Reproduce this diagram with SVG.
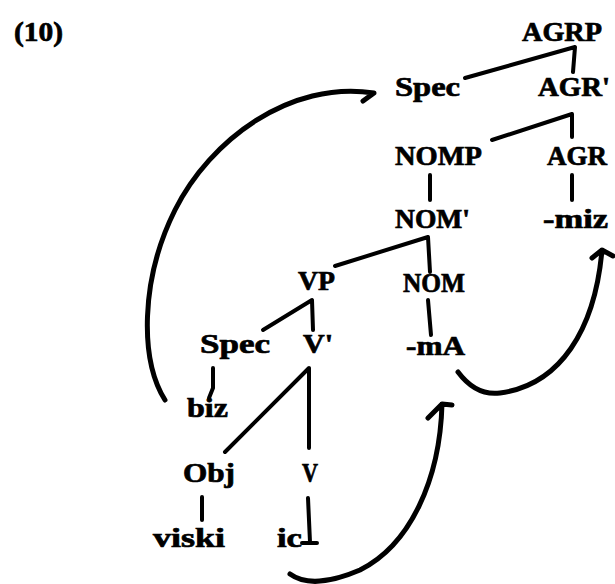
<svg xmlns="http://www.w3.org/2000/svg" width="615" height="584" viewBox="0 0 615 584">
<style>
text{font-family:"Liberation Serif","DejaVu Serif",serif;font-weight:bold;font-size:27px;fill:#000;stroke:#000;stroke-width:0.7}
.e{stroke:#000;stroke-width:4;fill:none;stroke-linecap:round;stroke-linejoin:round}
.c{stroke:#000;stroke-width:5;fill:none;stroke-linecap:round;stroke-linejoin:round}
</style>
<rect width="615" height="584" fill="#fff"/>
<text x="14" y="41" textLength="49" lengthAdjust="spacingAndGlyphs">(10)</text>
<g id="AGRP"><text x="522" y="41" textLength="80" lengthAdjust="spacingAndGlyphs">AGRP</text></g>
<g id="Spec1"><text x="395" y="96" textLength="65" lengthAdjust="spacingAndGlyphs">Spec</text></g>
<g id="AGRbar"><text x="538" y="96" textLength="72" lengthAdjust="spacingAndGlyphs">AGR'</text></g>
<g id="NOMP"><text x="395" y="165" textLength="87" lengthAdjust="spacingAndGlyphs">NOMP</text></g>
<g id="AGR"><text x="547" y="165" textLength="60" lengthAdjust="spacingAndGlyphs">AGR</text></g>
<g id="NOMbar"><text x="395" y="228" textLength="75" lengthAdjust="spacingAndGlyphs">NOM'</text></g>
<g id="miz"><text x="543" y="228" textLength="65" lengthAdjust="spacingAndGlyphs">-miz</text></g>
<g id="VP"><text x="298" y="290" textLength="37" lengthAdjust="spacingAndGlyphs">VP</text></g>
<g id="NOM"><text x="403" y="292" textLength="62" lengthAdjust="spacingAndGlyphs">NOM</text></g>
<g id="Spec2"><text x="200" y="353" textLength="70" lengthAdjust="spacingAndGlyphs">Spec</text></g>
<g id="Vbar"><text x="303" y="353" textLength="30" lengthAdjust="spacingAndGlyphs">V'</text></g>
<g id="mA"><text x="406" y="355" textLength="59" lengthAdjust="spacingAndGlyphs">-mA</text></g>
<g id="biz"><text x="187" y="417" textLength="41" lengthAdjust="spacingAndGlyphs">biz</text></g>
<g id="Obj"><text x="183" y="482" textLength="52" lengthAdjust="spacingAndGlyphs">Obj</text></g>
<g id="V"><text x="302" y="482" textLength="16" lengthAdjust="spacingAndGlyphs">V</text></g>
<g id="viski"><text x="153" y="547" textLength="72" lengthAdjust="spacingAndGlyphs">viski</text></g>
<g id="ic"><text x="277" y="547" textLength="25" lengthAdjust="spacingAndGlyphs">ic</text></g>
<g id="connectors">
<path class="e" d="M465,78 L575,47 L573,72"/>
<path class="e" d="M492,140 L572,114 L572,137"/>
<path class="e" d="M430,175 L430,200"/>
<path class="e" d="M572,175 L572,200"/>
<path class="e" d="M335,266 L428,237 L430,272"/>
<path class="e" d="M428,300 L431,335"/>
<path class="e" d="M263,330 L312,300 L313,330"/>
<path class="e" d="M213,368 L213,388 L209,398"/>
<path class="e" d="M225,452 L309,368 L309,448"/>
<path class="e" d="M202,497 L202,520"/>
<path class="e" d="M308,498 L310,542 M302,543 L317,543"/>
<path class="c" d="M165,400 C140,360 140,280 175,210 C210,140 290,80 374,93 L363,101"/>
<path class="c" d="M458,372 C470,388 485,395 500,393 C560,385 595,330 602,250 M592,258 L602,250 L613,256"/>
<path class="c" d="M290,574 C305,585 330,583 360,570 C410,545 440,480 442,404 M428,418 L442,404 L452,405"/>
</g>
</svg>
